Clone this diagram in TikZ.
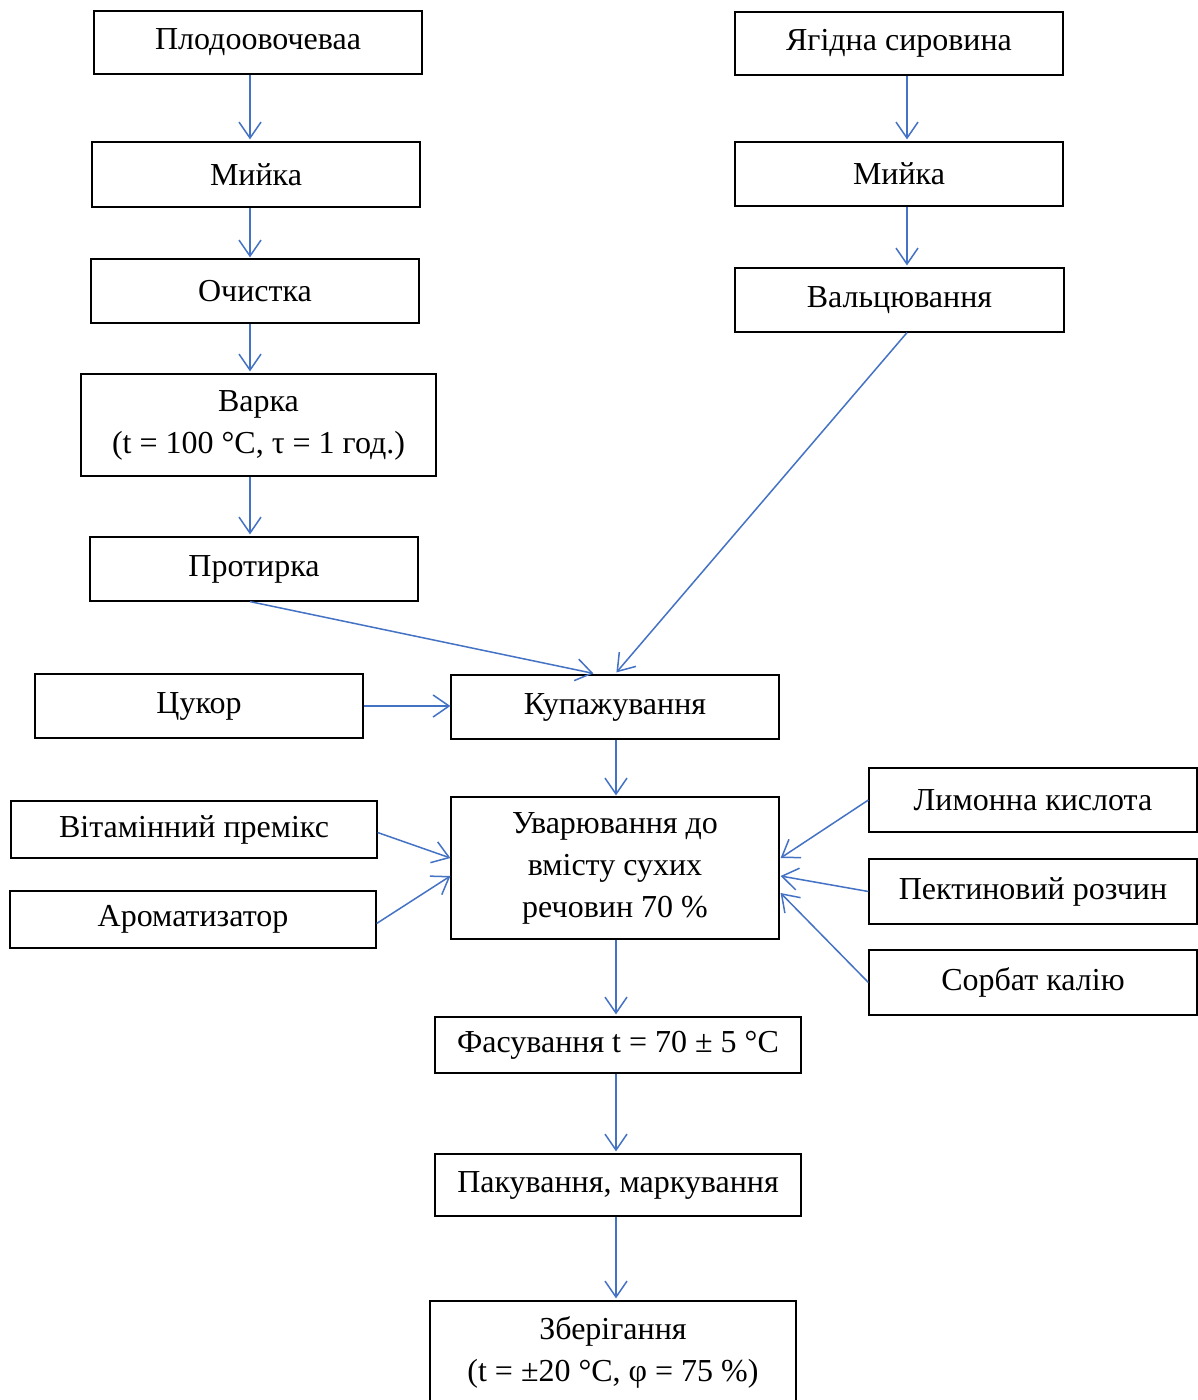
\documentclass[tikz,border=0pt]{standalone}
\usepackage{fontspec}
\setmainfont{Liberation Serif}
\usetikzlibrary{arrows.meta,calc}
\definecolor{arrblue}{RGB}{68,114,196}
\begin{document}
\begin{tikzpicture}[x=1pt,y=-1pt,
  txt/.style={inner sep=0pt, align=center, font=\fontsize{32}{42}\selectfont},
  box/.style={txt, draw=black, line width=1.2pt},
  arr/.style={draw=arrblue, line width=1.5pt,
    -{Straight Barb[length=16pt,width=22pt,line width=1.5pt]}}]
\useasboundingbox (0,0) rectangle (1198,1400);
\fill[white] (0,0) rectangle (1198,1400);
\coordinate (lc) at (250,0);
\coordinate (rc) at (907,0);
\coordinate (mc) at (616,0);
% nodes
\node[box, minimum width=328pt, minimum height=63pt] (pl) at (258,42.5) {Плодоовочеваа};
\node[box, minimum width=328pt, minimum height=63pt] (ya) at (899,43.5) {Ягідна сировина};
\node[box, minimum width=328pt, minimum height=65pt] (m1) at (256,174.5) {Мийка};
\node[box, minimum width=328pt, minimum height=64pt] (oc) at (255,291) {Очистка};
\node[box, minimum width=355pt, minimum height=102pt] (va) at (258.5,425) {Варка\\(t = 100 °C, τ = 1 год.)};
\node[box, minimum width=328pt, minimum height=64pt] (pr) at (254,569) {Протирка};
\node[box, minimum width=328pt, minimum height=64pt] (m2) at (899,174) {Мийка};
\node[box, minimum width=329pt, minimum height=64pt] (vl) at (899.5,300) {Вальцювання};
\node[box, minimum width=328pt, minimum height=64pt] (cu) at (199,706) {Цукор};
\node[box, minimum width=328pt, minimum height=64pt] (ku) at (615,707) {Купажування};
\node[box, minimum width=366pt, minimum height=57pt] (vi) at (194,829.5) {Вітамінний премікс};
\node[box, minimum width=366pt, minimum height=57pt] (ar) at (193,919.5) {Ароматизатор};
\node[box, minimum width=328pt, minimum height=142pt] (uv) at (615,868) {Уварювання до\\вмісту сухих\\речовин 70 \%};
\node[box, minimum width=328pt, minimum height=64pt] (li) at (1033,800) {Лимонна кислота};
\node[box, minimum width=328pt, minimum height=65pt] (pe) at (1033,891.5) {Пектиновий розчин};
\node[box, minimum width=328pt, minimum height=65pt] (so) at (1033,982.5) {Сорбат калію};
\node[box, minimum width=366pt, minimum height=56pt] (fa) at (618,1045) {Фасування t = 70 ± 5 °C};
\node[box, minimum width=366pt, minimum height=62pt] (pa) at (618,1185) {Пакування, маркування};
\node[box, minimum width=366pt, minimum height=118pt] (zb) at (613,1360) {};
\node[txt] (zbt) at (613,1352) {Зберігання\\(t = ±20 °C, φ = 75 \%)};
% connectors
\draw[arr] (pl.south -| lc) -- ($(m1.north -| lc)+(0,-2)$);
\draw[arr] (m1.south -| lc) -- ($(oc.north -| lc)+(0,-1)$);
\draw[arr] (oc.south -| lc) -- ($(va.north -| lc)+(0,-2)$);
\draw[arr] (va.south -| lc) -- ($(pr.north -| lc)+(0,-2)$);
\draw[arr] (ya.south -| rc) -- ($(m2.north -| rc)+(0,-2)$);
\draw[arr] (m2.south -| rc) -- ($(vl.north -| rc)+(0,-2)$);
\draw[arr] (pr.south -| lc) -- ($(ku.north west)+(143,-1)$);
\draw[arr] (vl.south -| rc) -- ($(ku.north west)+(166,-2)$);
\draw[arr] (cu.east) -- (cu.east -| ku.west);
\draw[arr] (ku.south -| mc) -- ($(uv.north -| mc)+(0,-1)$);
\draw[arr] ($(vi.east)+(0,3)$) -- ($(uv.west)+(0,-10)$);
\draw[arr] ($(ar.east)+(0,4)$) -- ($(uv.west)+(0,8)$);
\draw[arr] (li.west) -- ($(uv.east)+(1,-10)$);
\draw[arr] (pe.west) -- ($(uv.east)+(1,8)$);
\draw[arr] (so.west) -- ($(uv.east)+(1,25)$);
\draw[arr] (uv.south -| mc) -- ($(fa.north -| mc)+(0,-2)$);
\draw[arr] (fa.south -| mc) -- ($(pa.north -| mc)+(0,-2)$);
\draw[arr] (pa.south -| mc) -- ($(zb.north -| mc)+(0,-2)$);
\end{tikzpicture}
\end{document}
